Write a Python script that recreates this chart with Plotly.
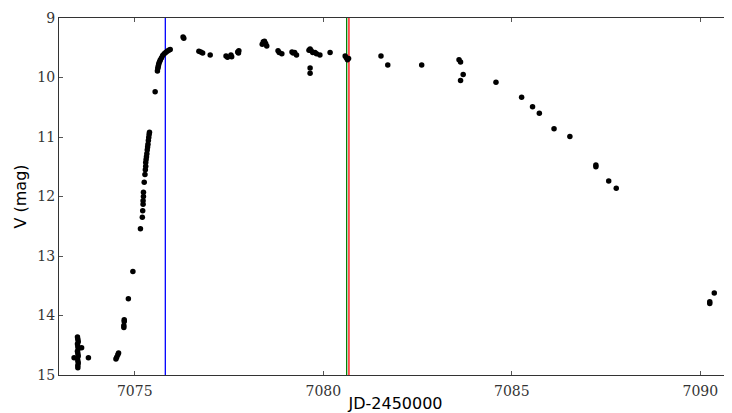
import plotly.graph_objects as go

# Light curve data (JD-2450000, V mag)
jd = [
    7073.39,
    7073.48, 7073.49, 7073.50, 7073.48, 7073.49, 7073.50, 7073.48, 7073.49, 7073.50, 7073.48, 7073.49, 7073.50, 7073.49, 7073.49,
    7073.59, 7073.77,
    7074.50, 7074.52, 7074.55, 7074.57,
    7074.71, 7074.71, 7074.72, 7074.72,
    7074.83, 7074.95, 7075.15,
    7075.20, 7075.21, 7075.22, 7075.22, 7075.23, 7075.23, 7075.25, 7075.27,
    7075.28, 7075.29, 7075.29, 7075.30, 7075.31, 7075.32, 7075.33, 7075.34, 7075.35, 7075.36, 7075.37, 7075.38, 7075.39,
    7075.54,
    7075.60, 7075.61, 7075.62, 7075.63, 7075.64, 7075.66, 7075.68, 7075.71, 7075.74, 7075.78, 7075.82, 7075.86, 7075.90, 7075.94,
    7076.28, 7076.30,
    7076.70, 7076.75, 7076.80,
    7077.00,
    7077.42, 7077.46, 7077.55, 7077.57,
    7077.73, 7077.75, 7077.76,
    7078.38, 7078.41, 7078.44, 7078.47, 7078.50,
    7078.80, 7078.83, 7078.90,
    7079.17, 7079.20, 7079.24, 7079.29,
    7079.62, 7079.65, 7079.68, 7079.72,
    7079.65, 7079.65,
    7079.78, 7079.82, 7079.91, 7080.18,
    7080.58, 7080.61, 7080.64, 7080.67,
    7081.53, 7081.71, 7082.61, 7083.60, 7083.64, 7083.71, 7083.64, 7084.58, 7085.26,
    7085.55, 7085.73, 7086.12, 7086.54, 7087.23, 7087.23, 7087.57, 7087.77,
    7090.37, 7090.25, 7090.25,
]
vmag = [
    14.71,
    14.36, 14.40, 14.44, 14.48, 14.52, 14.56, 14.60, 14.64, 14.68, 14.72, 14.76, 14.80, 14.84, 14.88,
    14.54, 14.71,
    14.73, 14.70, 14.66, 14.63,
    14.20, 14.17, 14.10, 14.07,
    13.72, 13.26, 12.54,
    12.35, 12.24, 12.13, 12.07, 12.00, 11.93, 11.76, 11.63,
    11.55, 11.49, 11.43, 11.38, 11.33, 11.28, 11.22, 11.17, 11.12, 11.06, 11.01, 10.96, 10.92,
    10.24,
    9.89, 9.85, 9.82, 9.79, 9.76, 9.73, 9.70, 9.67, 9.63, 9.60, 9.58, 9.56, 9.54, 9.53,
    9.32, 9.34,
    9.56, 9.57, 9.59,
    9.62,
    9.64, 9.66, 9.62, 9.65,
    9.57, 9.59, 9.55,
    9.44, 9.40, 9.39, 9.43, 9.47,
    9.55, 9.58, 9.60,
    9.57, 9.59, 9.58, 9.62,
    9.54, 9.52, 9.55, 9.58,
    9.84, 9.93,
    9.58, 9.60, 9.62, 9.58,
    9.64, 9.67, 9.70, 9.68,
    9.64, 9.79, 9.79, 9.70, 9.74, 9.95, 10.05, 10.08, 10.33,
    10.49, 10.60, 10.86, 10.99, 11.47, 11.50, 11.74, 11.86,
    13.62, 13.77, 13.80,
]

# Epoch markers (JD-2450000) and their colours
epochs = [7075.81, 7080.62, 7080.68]
epoch_colors = ["#0000ff", "#008000", "#ff0000"]

x_range = [7072.99, 7090.84]
y_range = [15, 9]
x_ticks = [7075, 7080, 7085, 7090]
y_ticks = [9, 10, 11, 12, 13, 14, 15]

fig = go.Figure()

for xe, c in zip(epochs, epoch_colors):
    fig.add_trace(go.Scatter(x=[xe, xe], y=y_range, mode="lines",
                             line=dict(color=c, width=1.3), hoverinfo="skip",
                             showlegend=False))

fig.add_trace(go.Scatter(x=jd, y=vmag, mode="markers",
                         marker=dict(color="black", size=5.5, line=dict(width=0)),
                         showlegend=False))

tick_font = dict(family="DejaVu Serif", size=14, color="#333333")

fig.update_layout(
    width=724, height=405,
    margin=dict(l=51, r=0, t=10, b=38, autoexpand=False),
    paper_bgcolor="white", plot_bgcolor="white",
    xaxis=dict(range=x_range, tickvals=x_ticks, ticktext=[str(t) for t in x_ticks],
               showgrid=False, zeroline=False, showline=True, linecolor="#333333",
               linewidth=1, mirror="ticks", ticks="inside", ticklen=4,
               tickcolor="#555555", tickfont=tick_font, ticklabelstandoff=3,
               automargin=True,
               title=dict(text="JD-2450000", font=dict(family="DejaVu Sans", size=16, color="black"),
                          standoff=0)),
    yaxis=dict(range=y_range, tickvals=y_ticks, ticktext=[str(t) for t in y_ticks],
               showgrid=False, zeroline=False, showline=True, linecolor="#333333",
               linewidth=1, mirror=False, ticks="inside", ticklen=4,
               tickcolor="#555555", tickfont=tick_font, automargin=True,
               title=dict(text="V (mag)", font=dict(family="DejaVu Sans", size=16, color="black"),
                          standoff=6)),
)

fig.write_html("out.html")
